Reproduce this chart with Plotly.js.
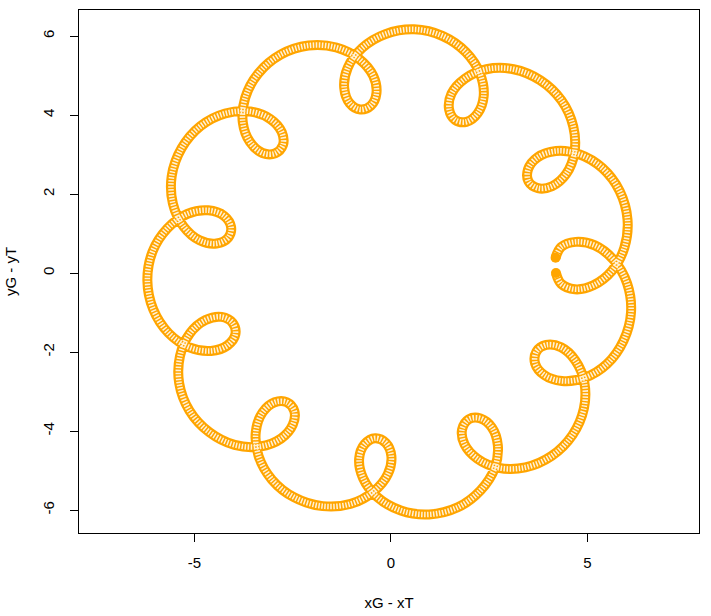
<!DOCTYPE html>
<html>
<head>
<meta charset="utf-8">
<script src="https://cdn.plot.ly/plotly-3.0.1.min.js"></script>
<style>html,body{margin:0;padding:0;background:#fff;}</style>
</head>
<body>
<div id="chart" style="width:711px;height:616px;"></div>
<script>
// Relative position (monthly samples)
const xRel = [
 4.20, 4.33, 4.68, 5.15, 5.62, 5.94, 6.02, 5.82, 5.38, 4.79, 4.20, 3.73,
 3.49, 3.50, 3.74, 4.10, 4.46, 4.67, 4.64, 4.34, 3.80, 3.12, 2.43, 1.88,
 1.54, 1.48, 1.63, 1.92, 2.21, 2.36, 2.27, 1.91, 1.32, 0.59, -0.14, -0.73,
 -1.10, -1.19, -1.05, -0.78, -0.51, -0.37, -0.45, -0.81, -1.39, -2.10, -2.81, -3.38,
 -3.71, -3.77, -3.59, -3.27, -2.95, -2.75, -2.78, -3.07, -3.58, -4.22, -4.85, -5.33,
 -5.58, -5.55, -5.28, -4.87, -4.44, -4.14, -4.07, -4.25, -4.65, -5.18, -5.69, -6.07,
 -6.20, -6.05, -5.66, -5.13, -4.58, -4.16, -3.96, -4.03, -4.31, -4.72, -5.12, -5.37,
 -5.39, -5.13, -4.62, -3.98, -3.33, -2.80, -2.50, -2.46, -2.65, -2.96, -3.27, -3.44,
 -3.37, -3.03, -2.46, -1.74, -1.02, -0.44, -0.08, 0.01, -0.13, -0.40, -0.67, -0.81,
 -0.71, -0.35, 0.25, 0.97, 1.70, 2.28, 2.64, 2.72, 2.57, 2.28, 1.98, 1.81,
 1.87, 2.20, 2.74, 3.42, 4.09, 4.62, 4.91, 4.92, 4.69, 4.33, 3.95, 3.70,
 3.67, 3.90, 4.35, 4.93, 5.50, 5.92, 6.11, 6.01, 5.67, 5.19, 4.70, 4.33,
 4.19
];
const yRel = [
 0.00, -0.27, -0.41, -0.31, 0.05, 0.64, 1.36, 2.08, 2.66, 3.01, 3.09, 2.93,
 2.63, 2.32, 2.15, 2.20, 2.51, 3.05, 3.71, 4.37, 4.88, 5.16, 5.16, 4.92,
 4.54, 4.14, 3.88, 3.83, 4.05, 4.48, 5.04, 5.59, 6.00, 6.17, 6.05, 5.70,
 5.20, 4.69, 4.30, 4.14, 4.24, 4.55, 4.99, 5.42, 5.71, 5.76, 5.53, 5.05,
 4.44, 3.81, 3.32, 3.04, 3.03, 3.24, 3.57, 3.90, 4.09, 4.04, 3.72, 3.16,
 2.46, 1.76, 1.18, 0.83, 0.75, 0.90, 1.17, 1.45, 1.59, 1.50, 1.13, 0.54,
 -0.19, -0.92, -1.52, -1.88, -1.97, -1.83, -1.55, -1.26, -1.11, -1.19, -1.53, -2.10,
 -2.79, -3.48, -4.03, -4.35, -4.39, -4.19, -3.84, -3.49, -3.27, -3.27, -3.53, -4.02,
 -4.63, -5.23, -5.68, -5.90, -5.84, -5.53, -5.09, -4.63, -4.30, -4.18, -4.33, -4.70,
 -5.19, -5.67, -6.01, -6.11, -5.93, -5.50, -4.94, -4.36, -3.91, -3.68, -3.70, -3.96,
 -4.33, -4.70, -4.93, -4.92, -4.63, -4.10, -3.43, -2.76, -2.21, -1.88, -1.82, -1.99,
 -2.29, -2.58, -2.73, -2.65, -2.30, -1.71, -0.99, -0.26, 0.33, 0.70, 0.79, 0.66,
 0.39
];
const xTicks = [-5, 0, 5];
const yTicks = [-6, -4, -2, 0, 2, 4, 6];
const xLabel = 'xG - xT';
const yLabel = 'yG - yT';

const FONT = 'Liberation Sans, Arial, Helvetica, sans-serif';
const ORANGE = '#FFA500';
const last = xRel.length - 1;

const traces = [
  {x: xRel, y: yRel, type: 'scatter', mode: 'lines', hoverinfo: 'skip',
   line: {color: ORANGE, width: 10, shape: 'spline', smoothing: 1}},
  {x: xRel, y: yRel, type: 'scatter', mode: 'lines', hoverinfo: 'skip',
   line: {color: 'rgba(255,255,255,0.85)', width: 5.5, shape: 'spline', smoothing: 1, dash: '1.5px,1.5px'}},
  {x: [xRel[0], xRel[last]], y: [yRel[0], yRel[last]], type: 'scatter', mode: 'markers', hoverinfo: 'skip',
   marker: {symbol: 'circle', size: 10, color: ORANGE, line: {width: 0}}}
];

const axisCommon = {
  showgrid: false, zeroline: false, showline: true, mirror: true,
  linecolor: '#000', linewidth: 1, ticks: 'outside', ticklen: 8,
  tickcolor: '#000', tickwidth: 1,
  tickfont: {family: FONT, size: 15, color: '#000'},
  automargin: false
};

const layout = {
  width: 711, height: 616,
  margin: {l: 79, r: 12, t: 10, b: 83},
  paper_bgcolor: '#fff', plot_bgcolor: '#fff',
  showlegend: false,
  font: {family: FONT, size: 15, color: '#000'},
  xaxis: Object.assign({}, axisCommon, {
    range: [-7.94, 7.84], tickmode: 'array', tickvals: xTicks,
    ticktext: xTicks.map(String), ticklabelstandoff: 8,
    title: {text: xLabel, font: {family: FONT, size: 15, color: '#000'}, standoff: 27}
  }),
  yaxis: Object.assign({}, axisCommon, {
    range: [-6.58, 6.66], tickmode: 'array', tickvals: yTicks,
    ticktext: yTicks.map(String), tickangle: -90, ticklabelstandoff: 10,
    title: {text: yLabel, font: {family: FONT, size: 15, color: '#000'}, standoff: 19}
  })
};

Plotly.newPlot('chart', traces, layout, {staticPlot: true, displayModeBar: false});
</script>
</body>
</html>
